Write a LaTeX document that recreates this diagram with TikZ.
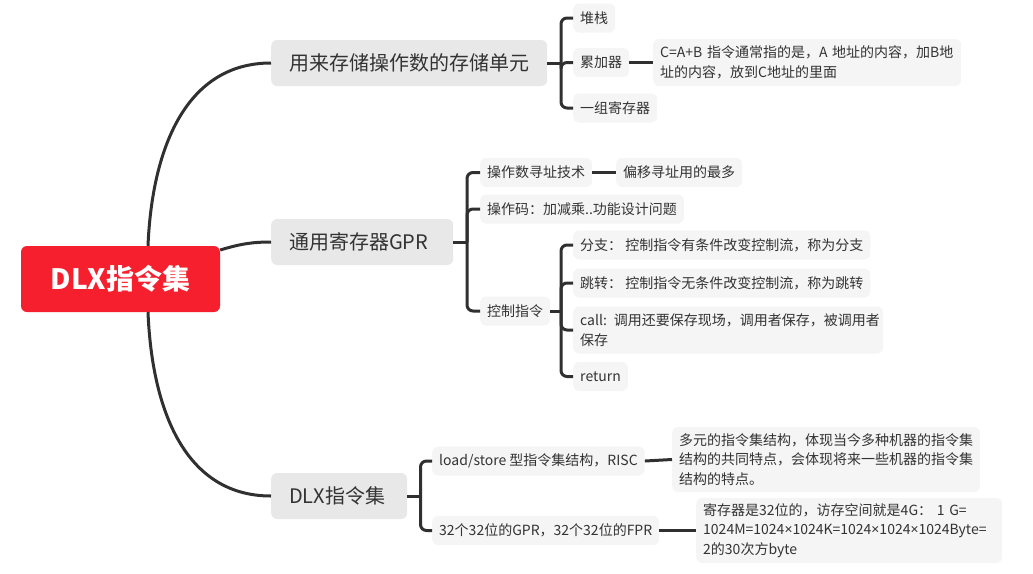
\documentclass[tikz,border=0pt]{standalone}
\usepackage{fontspec}
\setmainfont{Noto Sans CJK SC}
\newfontfamily\latinfont{Noto Sans}
\newcommand{\mytimes}{{\latinfont ×}}
\definecolor{rootred}{RGB}{245,31,45}
\definecolor{maingray}{RGB}{232,232,232}
\definecolor{subgray}{RGB}{245,245,245}
\definecolor{txt}{RGB}{51,51,51}
\definecolor{linec}{RGB}{48,48,48}
\tikzset{
  rootbox/.style={fill=rootred, rounded corners=6pt, text=white, font=\bfseries\fontsize{28}{30}\selectfont, minimum width=199pt, minimum height=66pt, inner sep=0pt},
  mainbox/.style={fill=maingray, rounded corners=6pt, text=txt, font=\fontsize{20}{24}\selectfont, minimum height=46pt, inner xsep=18pt, inner ysep=0pt, anchor=west, align=left},
  subbox/.style={fill=subgray, rounded corners=6pt, text=txt, font=\fontsize{14}{19.5}\selectfont, minimum height=29pt, inner xsep=7pt, inner ysep=3pt, anchor=west, align=left},
  link/.style={draw=linec, line width=3pt},
  branch/.style={draw=linec, line width=3pt, rounded corners=6pt},
}
\begin{document}
\begin{tikzpicture}[x=1pt, y=-1pt]
\useasboundingbox (0,0) rectangle (1033,573);
% root
\node[rootbox] (root) at (120.5,279) {DLX指令集};
% main nodes
\node[mainbox, text width=240pt] (m1) at (271,63) {用来存储操作数的存储单元};
\node[mainbox, text width=146pt] (m2) at (271,242) {通用寄存器GPR};
\node[mainbox, text width=100pt] (m3) at (271,496) {DLX指令集};
% m1 children
\node[subbox] (s11) at (573,18) {堆栈};
\node[subbox] (s12) at (573,62.5) {累加器};
\node[subbox] (s13) at (573,108) {一组寄存器};
\node[subbox, text width=294pt, minimum height=47pt] (s121) at (653,62.5) {C=A+B 指令通常指的是，A 地址的内容，加B地\\址的内容，放到C地址的里面};
% m2 children
\node[subbox] (s21) at (480,172.5) {操作数寻址技术};
\node[subbox] (s211) at (616,172.5) {偏移寻址用的最多};
\node[subbox] (s22) at (480,209) {操作码：加减乘..功能设计问题};
\node[subbox] (s23) at (480,311) {控制指令};
\node[subbox] (s231) at (573,245) {分支：\ 控制指令有条件改变控制流，称为分支};
\node[subbox] (s232) at (573,283) {跳转：\ 控制指令无条件改变控制流，称为跳转};
\node[subbox, text width=296pt, minimum height=47pt] (s233) at (573,330) {call: 调用还要保存现场，调用者保存，被调用者\\保存};
\node[subbox] (s234) at (573,376.5) {return};
% m3 children
\node[subbox] (s31) at (432,461) {load/store 型指令集结构，RISC};
\node[subbox] (s32) at (432,530.5) {32个32位的GPR，32个32位的FPR};
\node[subbox, text width=294pt, minimum height=65pt] (s311) at (672,459.5) {多元的指令集结构，体现当今多种机器的指令集\\结构的共同特点，会体现将来一些机器的指令集\\结构的特点。};
\node[subbox, text width=292pt, minimum height=65pt] (s321) at (696,530.5) {寄存器是32位的，访存空间就是4G：\ 1 G=\\1024M=1024\mytimes 1024K=1024\mytimes 1024\mytimes 1024Byte=\\2的30次方byte};
% root connectors
\draw[link] ([xshift=27.5pt]root.north) .. controls (152,150) and (185,63) .. (m1.west);
\draw[link] ([yshift=29pt]root.east) .. controls (240,244) and (252,242) .. (m2.west);
\draw[link] ([xshift=27.5pt]root.south) .. controls (152,410) and (185,496) .. (m3.west);
% bracket junctions
\coordinate (b1) at (561,63);
\coordinate (b2) at (467,242);
\coordinate (b23) at (561,311);
\coordinate (b3) at (420.5,496);
\draw[link] (m1.east) -- (b1);
\draw[branch] (b1) |- (s11.west);
\draw[branch] (b1) |- (s12.west);
\draw[branch] (b1) |- (s13.west);
\draw[link] (s12.east) -- (s121.west);
\draw[link] (m2.east) -- (b2);
\draw[branch] (b2) |- (s21.west);
\draw[branch] (b2) |- (s22.west);
\draw[branch] (b2) |- (s23.west);
\draw[link] (s21.east) -- (s211.west);
\draw[link] (s23.east) -- (b23);
\draw[branch] (b23) |- (s231.west);
\draw[branch] (b23) |- (s232.west);
\draw[branch] (b23) |- (s233.west);
\draw[branch] (b23) |- (s234.west);
\draw[link] (m3.east) -- (b3);
\draw[branch] (b3) |- (s31.west);
\draw[branch] (b3) |- (s32.west);
\draw[link] (s31.east) -- (s311.west);
\draw[link] (s32.east) -- (s321.west);
\end{tikzpicture}
\end{document}
